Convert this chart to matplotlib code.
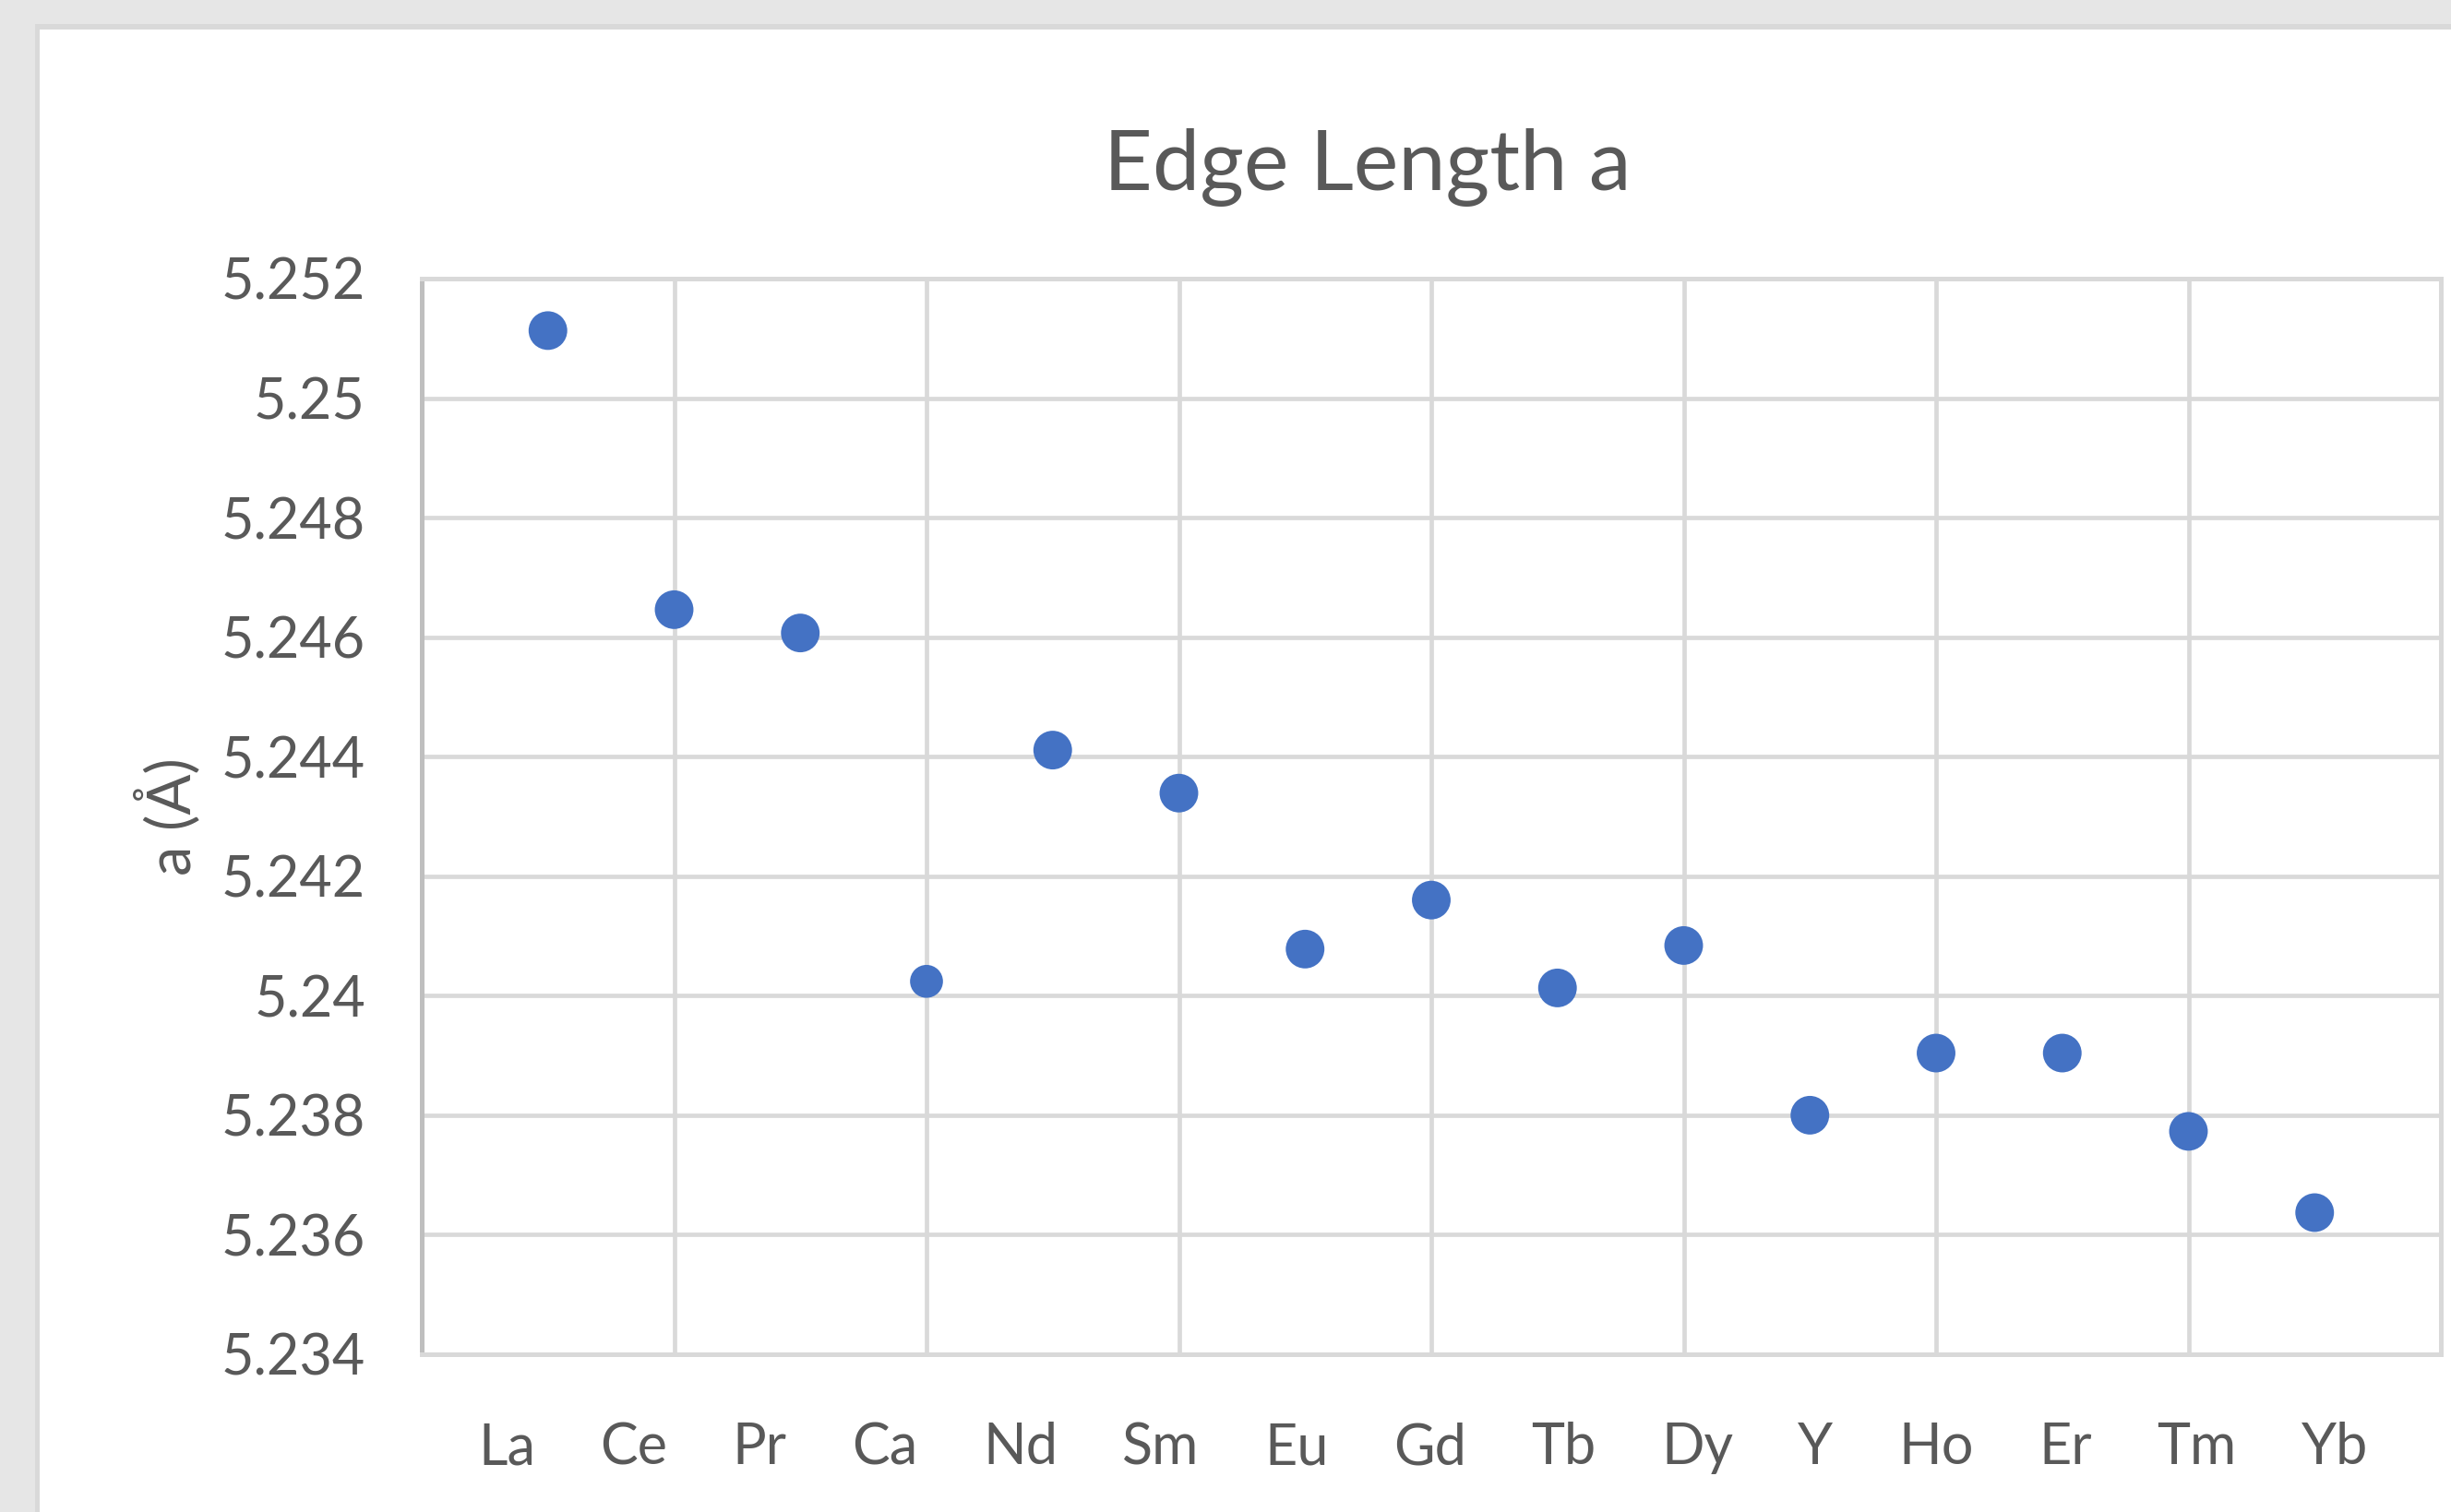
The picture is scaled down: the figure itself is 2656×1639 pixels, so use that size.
import matplotlib
matplotlib.use("Agg")
import matplotlib.pyplot as plt
from matplotlib.patches import Rectangle
import numpy as np

# Data
elements = ['La', 'Ce', 'Pr', 'Ca', 'Nd', 'Sm', 'Eu', 'Gd', 'Tb', 'Dy',
            'Y', 'Ho', 'Er', 'Tm', 'Yb']
a_values = [5.25113, 5.24646, 5.24607, 5.24024, 5.24411, 5.24339, 5.24078,
            5.24160, 5.24013, 5.24084, 5.23800, 5.23904, 5.23904, 5.23773,
            5.23637]
y_ticks = [5.234, 5.236, 5.238, 5.240, 5.242, 5.244, 5.246, 5.248, 5.250, 5.252]
y_tick_labels = ['5.234', '5.236', '5.238', '5.24', '5.242', '5.244', '5.246',
                 '5.248', '5.25', '5.252']

plt.rcParams['font.family'] = ['Lato', 'DejaVu Sans']

W, H, DPI = 2656, 1639, 100
fig = plt.figure(figsize=(W / DPI, H / DPI), dpi=DPI, facecolor='#E6E6E6')

# chart panel (white card with thin border, like a spreadsheet chart)
fig.patches.append(Rectangle((38 / W, 0), 1, 1 - 26 / H, transform=fig.transFigure,
                             facecolor='#D9D9D9', edgecolor='none', zorder=-2))
fig.patches.append(Rectangle((43 / W, 0), 1, 1 - 32 / H, transform=fig.transFigure,
                             facecolor='white', edgecolor='none', zorder=-1))

ax = fig.add_axes([457 / W, 1 - 1468 / H, (2645 - 457) / W, (1468 - 302) / H])
ax.set_facecolor('white')

grid_col = '#D9D9D9'
text_col = '#595959'
blue = '#4472C4'

x = np.arange(1, len(elements) + 1)
vals = np.array(a_values)
is_ca = np.array([e == 'Ca' for e in elements])

ax.scatter(x[~is_ca], vals[~is_ca], s=910, color=blue, edgecolors='none', zorder=3)
ax.scatter(x[is_ca], vals[is_ca], s=660, color=blue, edgecolors='none', zorder=3)

ax.set_xlim(0, 16)
ax.set_ylim(5.234, 5.252)
ax.set_xticks(range(0, 17, 2))
ax.set_yticks(y_ticks)
ax.set_yticklabels(y_tick_labels)
ax.tick_params(axis='x', length=0, labelbottom=False)
ax.tick_params(axis='y', length=0, pad=44, labelsize=44, labelcolor=text_col)
ax.grid(True, color=grid_col, linewidth=3.4)
ax.set_axisbelow(True)

for side in ['top', 'right', 'bottom']:
    ax.spines[side].set_color(grid_col)
    ax.spines[side].set_linewidth(3.6)
ax.spines['left'].set_color('#BFBFBF')
ax.spines['left'].set_linewidth(3.6)

# category labels along the bottom: a spaced-out text row, equal gaps between names
renderer = fig.canvas.get_renderer()
labels = [fig.text(0, 1 - 1587 / H, e, ha='left', va='baseline', fontsize=44,
                   color=text_col) for e in elements]
widths = [t.get_window_extent(renderer).width for t in labels]
x0, x1 = 518, 2566
gap = (x1 - x0 - sum(widths)) / (len(widths) - 1)
pos = x0
for t, w in zip(labels, widths):
    t.set_x(pos / W)
    pos += w + gap

ax.set_ylabel('a (Å)', fontsize=47, color=text_col, va='center')
ax.yaxis.set_label_coords((181 - 457) / (2645 - 457), 0.5)

fig.text(1482 / W, 1 - 206 / H, 'Edge Length a', ha='center', va='baseline',
         fontsize=66, color=text_col)

fig.savefig('out.png', dpi=DPI, facecolor=fig.get_facecolor())
